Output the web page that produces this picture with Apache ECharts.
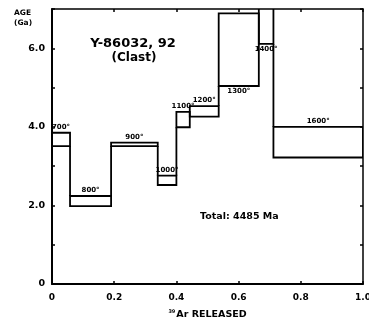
<!DOCTYPE html>
<html><head><meta charset="utf-8">
<script src="https://cdn.jsdelivr.net/npm/echarts@6/dist/echarts.min.js"></script>
<style>html,body{margin:0;padding:0;background:#fff}#c{width:369px;height:322px}</style>
</head><body><div id="c"></div>
<script>
// Step-heating data: temperature labels, 39Ar released fractions, age bounds (Ga)
const temps = ['700°','800°','900°','1000°','1100°','1200°','1300°','1400°','1600°'];
const fracStart = [0, 0.058, 0.19, 0.34, 0.40, 0.443, 0.536, 0.665, 0.712];
const fracEnd   = [0.058, 0.19, 0.34, 0.40, 0.443, 0.536, 0.665, 0.712, 1.0];
const ageLow  = [3.51, 1.98, 3.51, 2.52, 3.99, 4.26, 5.04, 6.11, 3.22];
const ageHigh = [3.85, 2.24, 3.60, 2.76, 4.38, 4.53, 6.89, 7.30, 4.00];
const xTickValues = [0, 0.2, 0.4, 0.6, 0.8, 1.0];
const yTickValues = [0, 2.0, 4.0, 6.0];
const sampleTitle = 'Y-86032, 92';
const sampleSub = '(Clast)';
const totalText = 'Total: 4485 Ma';

const FONT = '"DejaVu Sans", "Liberation Sans", sans-serif';
const data = temps.map((t, i) => [fracStart[i], fracEnd[i], ageLow[i], ageHigh[i], i]);

const chart = echarts.init(document.getElementById('c'), null, {renderer: 'canvas'});
chart.setOption({
  animation: false,
  backgroundColor: '#fff',
  grid: {left: 52, right: 6, top: 9, bottom: 38, outerBoundsMode: 'none', containLabel: false},
  xAxis: [{
    type: 'value', min: 0, max: 1, interval: 0.2, position: 'bottom',
    axisLine: {onZero: false, lineStyle: {color: '#000', width: 2}},
    axisTick: {inside: true, length: 3, lineStyle: {color: '#000', width: 1.5}},
    splitLine: {show: false},
    axisLabel: {color: '#000', fontFamily: FONT, fontWeight: 'bold', fontSize: 9, margin: 9,
      formatter: v => xTickValues.some(t => Math.abs(t - v) < 1e-6) ? (v === 0 ? '0' : v.toFixed(1)) : ''},
    name: '{s|39}{n|Ar RELEASED}', nameLocation: 'middle', nameGap: 25,
    nameTextStyle: {rich: {
      s: {fontSize: 5, fontWeight: 'bold', fontFamily: FONT, color: '#000', verticalAlign: 'top', padding: [0,1,6,0]},
      n: {fontSize: 9.5, fontWeight: 'bold', fontFamily: FONT, color: '#000'}
    }}
  }, {
    type: 'value', min: 0, max: 1, interval: 0.2, position: 'top',
    axisLine: {onZero: false, lineStyle: {color: '#000', width: 1.5}},
    axisTick: {inside: true, length: 3, lineStyle: {color: '#000', width: 1.5}},
    axisLabel: {show: false}, splitLine: {show: false}
  }],
  yAxis: [{
    type: 'value', min: 0, max: 7, interval: 1, position: 'left',
    axisLine: {show: true, onZero: false, lineStyle: {color: '#000', width: 2}},
    axisTick: {show: true, inside: true, length: 3, lineStyle: {color: '#000', width: 1.5}},
    splitLine: {show: false},
    axisLabel: {color: '#000', fontFamily: FONT, fontWeight: 'bold', fontSize: 9.5, margin: 7,
      formatter: v => yTickValues.indexOf(v) >= 0 ? (v === 0 ? '0' : v.toFixed(1)) : ''}
  }, {
    type: 'value', min: 0, max: 7, interval: 1, position: 'right',
    axisLine: {show: true, onZero: false, lineStyle: {color: '#000', width: 1.5}},
    axisTick: {show: true, inside: true, length: 3, lineStyle: {color: '#000', width: 1.5}},
    axisLabel: {show: false}, splitLine: {show: false}
  }],
  series: [{
    type: 'custom',
    clip: true,
    xAxisIndex: 0, yAxisIndex: 0,
    data: data,
    renderItem: function (params, api) {
      const x0 = api.value(0), x1 = api.value(1), lo = api.value(2), hi = api.value(3);
      const i = api.value(4);
      const p0 = api.coord([x0, hi]), p1 = api.coord([x1, lo]);
      const stroke = {stroke: '#000', lineWidth: 1.8, fill: null};
      const children = [{
        type: 'rect',
        shape: {x: p0[0], y: p0[1], width: p1[0] - p0[0], height: p1[1] - p0[1]},
        style: stroke
      }];
      if (i > 0) {
        const pLo = ageLow[i - 1], pHi = ageHigh[i - 1];
        let a = null, b = null;
        if (lo > pHi) { a = pHi; b = lo; }
        else if (hi < pLo) { a = hi; b = pLo; }
        if (a !== null) {
          const q0 = api.coord([x0, a]), q1 = api.coord([x0, b]);
          children.push({type: 'line', shape: {x1: q0[0], y1: q0[1], x2: q1[0], y2: q1[1]}, style: {stroke: '#000', lineWidth: 1.8}});
        }
      }
      const below = hi > 6.5;
      const cx = (p0[0] + p1[0]) / 2;
      children.push({
        type: 'text',
        style: {
          text: temps[i], x: cx, y: below ? p1[1] + 2 : p0[1] - 2,
          align: 'center', verticalAlign: below ? 'top' : 'bottom',
          fontFamily: FONT, fontWeight: 'bold', fontSize: 7, fill: '#000'
        }
      });
      return {type: 'group', children: children};
    }
  }],
  graphic: [
    {type: 'text', left: 14, top: 8, style: {text: 'AGE\n(Ga)', fontFamily: FONT, fontWeight: 'bold', fontSize: 7.5, lineHeight: 10, fill: '#000'}},
    {type: 'text', x: 133, y: 44, style: {text: sampleTitle, align: 'center', verticalAlign: 'middle', fontFamily: FONT, fontWeight: 'bold', fontSize: 13, fill: '#000'}},
    {type: 'text', x: 134, y: 58, style: {text: sampleSub, align: 'center', verticalAlign: 'middle', fontFamily: FONT, fontWeight: 'bold', fontSize: 12, fill: '#000'}},
    {type: 'text', x: 200, y: 217, style: {text: totalText, align: 'left', verticalAlign: 'middle', fontFamily: FONT, fontWeight: 'bold', fontSize: 9.5, fill: '#000'}}
  ]
});
</script></body></html>
